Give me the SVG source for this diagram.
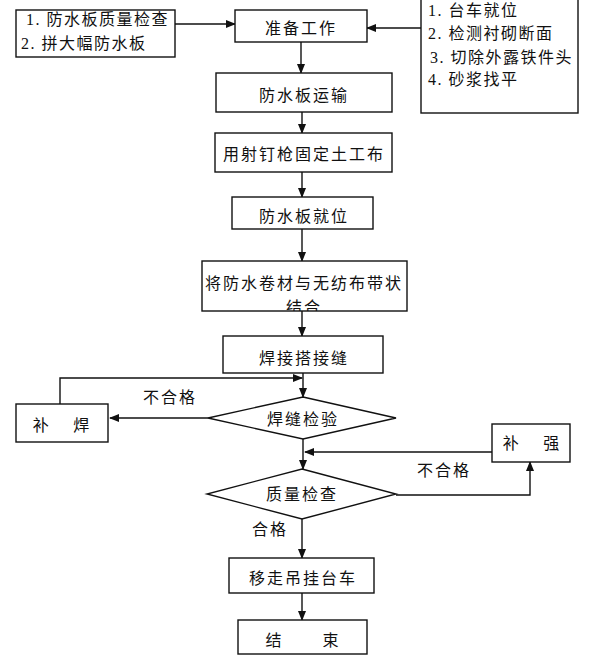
<svg xmlns="http://www.w3.org/2000/svg" width="600" height="655" viewBox="0 0 600 655">
<style>
.box{fill:#fff;stroke:#111;stroke-width:1.4}
.t{font-family:"Noto Sans CJK SC","Noto Sans",sans-serif;font-size:16px;fill:#111;text-anchor:middle;dominant-baseline:central;letter-spacing:2px}
.l{font-family:"Liberation Serif","Noto Sans CJK SC",serif;font-size:16px;fill:#111;dominant-baseline:central;letter-spacing:1.5px}
.c{fill:none;stroke:#111;stroke-width:1.4}
</style>
<defs>
<marker id="ah" markerUnits="userSpaceOnUse" markerWidth="10" markerHeight="8" refX="9" refY="4" orient="auto">
<path d="M0,0 L10,4 L0,8 Z" fill="#111"/>
</marker>
<clipPath id="clipJ"><rect x="202" y="261" width="205" height="50"/></clipPath>
</defs>
<rect width="600" height="655" fill="#fff"/>
<g id="connectors">
<line class="c" x1="175" y1="24" x2="235" y2="24" marker-end="url(#ah)"/>
<line class="c" x1="421" y1="28" x2="367" y2="28" marker-end="url(#ah)"/>
<line class="c" x1="301" y1="42" x2="301" y2="73" marker-end="url(#ah)"/>
<line class="c" x1="302" y1="112" x2="302" y2="133" marker-end="url(#ah)"/>
<line class="c" x1="302" y1="172" x2="302" y2="197" marker-end="url(#ah)"/>
<line class="c" x1="302" y1="229" x2="302" y2="261" marker-end="url(#ah)"/>
<line class="c" x1="302" y1="311" x2="302" y2="336" marker-end="url(#ah)"/>
<line class="c" x1="303" y1="373" x2="303" y2="397" marker-end="url(#ah)"/>
<polyline class="c" points="60,404 60,378 302,378" marker-end="url(#ah)"/>
<line class="c" x1="208" y1="418" x2="110" y2="418" marker-end="url(#ah)"/>
<line class="c" x1="303" y1="439" x2="303" y2="469" marker-end="url(#ah)"/>
<line class="c" x1="492" y1="452" x2="305" y2="452" marker-end="url(#ah)"/>
<polyline class="c" points="396,495 530,495 530,462" marker-end="url(#ah)"/>
<line class="c" x1="302" y1="519" x2="302" y2="558" marker-end="url(#ah)"/>
<line class="c" x1="302" y1="593" x2="302" y2="620" marker-end="url(#ah)"/>
<text class="t" x="170" y="396">不合格</text>
<text class="t" x="444" y="469">不合格</text>
<text class="t" x="270" y="528">合格</text>
</g>
<g id="n-left">
<rect class="box" x="16" y="10" width="159" height="47"/>
<text class="l" x="26" y="19">1. 防水板质量检查</text>
<text class="l" x="21" y="43">2. 拼大幅防水板</text>
</g>
<g id="n-prep">
<rect class="box" x="235" y="10" width="132" height="32"/>
<text class="t" x="301" y="27">准备工作</text>
</g>
<g id="n-right">
<rect class="box" x="421" y="-2" width="157" height="115"/>
<text class="l" x="428" y="10">1. 台车就位</text>
<text class="l" x="428" y="33">2. 检测衬砌断面</text>
<text class="l" x="430" y="57">3. 切除外露铁件头</text>
<text class="l" x="428" y="79">4. 砂浆找平</text>
</g>
<g id="n-transport">
<rect class="box" x="216" y="73" width="176" height="39"/>
<text class="t" x="304" y="94">防水板运输</text>
</g>
<g id="n-fix">
<rect class="box" x="215" y="133" width="177" height="39"/>
<text class="t" x="304" y="153">用射钉枪固定土工布</text>
</g>
<g id="n-place">
<rect class="box" x="232" y="197" width="141" height="32"/>
<text class="t" x="304" y="215">防水板就位</text>
</g>
<g id="n-combine">
<rect class="box" x="202" y="261" width="205" height="50"/>
<text class="t" x="304" y="282">将防水卷材与无纺布带状</text>
<text class="t" x="304" y="306" clip-path="url(#clipJ)">结合</text>
</g>
<g id="n-weld">
<rect class="box" x="223" y="336" width="160" height="37"/>
<text class="t" x="304" y="357">焊接搭接缝</text>
</g>
<g id="n-weldcheck">
<polygon class="box" points="303,397 396,418 303,439 208,418"/>
<text class="t" x="303" y="418">焊缝检验</text>
</g>
<g id="n-reweld">
<rect class="box" x="16" y="404" width="92" height="38"/>
<text class="t" x="62" y="424" xml:space="preserve">补    焊</text>
</g>
<g id="n-reinforce">
<rect class="box" x="492" y="424" width="78" height="38"/>
<text class="t" x="532" y="442" xml:space="preserve">补    强</text>
</g>
<g id="n-quality">
<polygon class="box" points="302,469 396,494 302,519 207,494"/>
<text class="t" x="302" y="493">质量检查</text>
</g>
<g id="n-move">
<rect class="box" x="229" y="558" width="145" height="35"/>
<text class="t" x="303" y="577">移走吊挂台车</text>
</g>
<g id="n-end">
<rect class="box" x="238" y="620" width="129" height="34"/>
<text class="t" x="303" y="639" xml:space="preserve">结       束</text>
</g>
</svg>
